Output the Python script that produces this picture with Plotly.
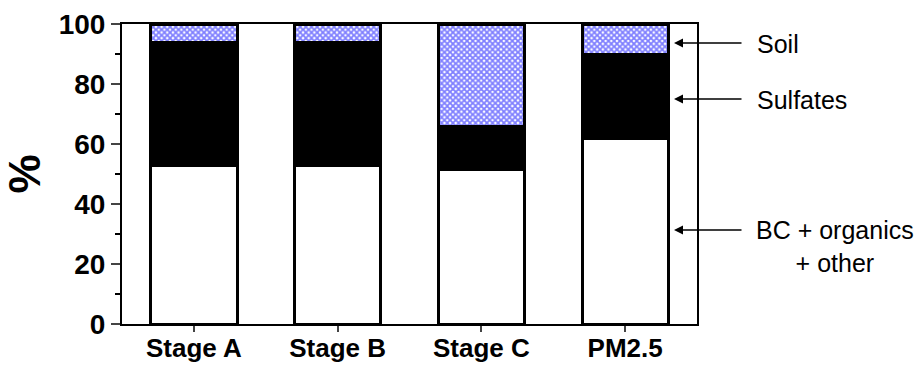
import plotly.graph_objects as go

categories = ["Stage A", "Stage B", "Stage C", "PM2.5"]
bc_organics = [53, 53, 51.5, 62]
sulfates = [41, 41, 14.5, 28]
soil = [6, 6, 34, 10]

FONT = "Liberation Sans, Arial, sans-serif"

fig = go.Figure()
fig.add_bar(x=categories, y=bc_organics, name="BC + organics + other",
            marker=dict(color="white", line=dict(color="black", width=3)), width=0.6)
fig.add_bar(x=categories, y=sulfates, name="Sulfates",
            marker=dict(color="black", line=dict(color="black", width=3)), width=0.6)
fig.add_bar(x=categories, y=soil, name="Soil",
            marker=dict(color="white", line=dict(color="black", width=3),
                        pattern=dict(shape="x", fgcolor="#0000ff", bgcolor="white",
                                     size=4, solidity=0.7, fillmode="overlay")),
            width=0.6)

fig.update_layout(
    barmode="stack",
    width=920, height=366,
    margin=dict(l=122, r=223, t=24, b=42, autoexpand=False),
    paper_bgcolor="white", plot_bgcolor="white",
    showlegend=False,
    font=dict(family=FONT, color="black"),
)
fig.update_yaxes(range=[0, 100], dtick=20, ticks="outside", ticklen=9, tickwidth=2,
                 showline=True, linecolor="black", linewidth=2, mirror=True,
                 showgrid=False, zeroline=False, automargin=False,
                 minor=dict(dtick=10, ticks="outside", ticklen=5, tickwidth=2, tickcolor="black"),
                 tickfont=dict(family=FONT, size=28, color="black", weight="bold"),
                 title=dict(text="%", font=dict(family=FONT, size=44, color="black", weight="bold"),
                            standoff=10))
fig.update_xaxes(ticks="outside", ticklen=6, tickwidth=2,
                 showline=True, linecolor="black", linewidth=2, mirror=True,
                 showgrid=False, automargin=False, ticklabelstandoff=-6,
                 tickfont=dict(family=FONT, size=26, color="black", weight="bold"))

arrow_y = {"Soil": 93.7, "Sulfates": 75, "BC": 31.3}
for key, yv in arrow_y.items():
    fig.add_annotation(x=0.96, y=yv, xref="paper", yref="y", text="",
                       showarrow=True, ax=69, ay=0, axref="pixel", ayref="pixel",
                       arrowhead=2, arrowsize=1.2, arrowwidth=1.5, arrowcolor="black")

fig.add_annotation(x=1.1, y=93.5, xref="paper", yref="y", text="Soil", showarrow=False,
                   xanchor="left", yanchor="middle", font=dict(family=FONT, size=25, color="black"))
fig.add_annotation(x=1.1, y=74.7, xref="paper", yref="y", text="Sulfates", showarrow=False,
                   xanchor="left", yanchor="middle", font=dict(family=FONT, size=25, color="black"))
fig.add_annotation(x=1.24, y=26, xref="paper", yref="y", text="BC + organics<br>+ other",
                   showarrow=False, xanchor="center", yanchor="middle", align="center",
                   font=dict(family=FONT, size=25, color="black"))

fig.write_html("out.html")
